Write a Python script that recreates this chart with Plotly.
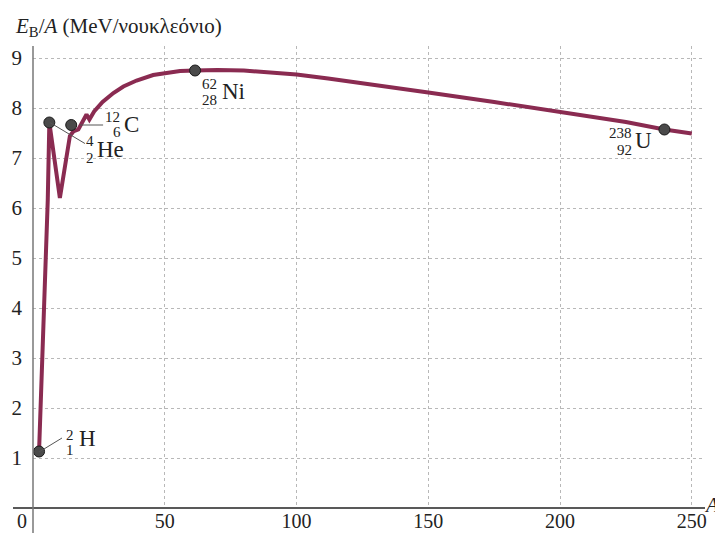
import plotly.graph_objects as go

# ---- data ----
curve_A = [2.3, 3.9, 5.6, 6.2, 10.2, 14.0, 15.3, 17.2, 18.5, 20.3, 21.4, 23.2, 26.4, 30.5,
           34.3, 39.3, 45.6, 50.7, 55.8, 61.5, 70.0, 80.0, 90.0, 100.0, 112.0, 125.0,
           137.0, 150.0, 175.0, 200.0, 225.0, 239.6, 250.0]
curve_E = [1.13, 3.49, 6.16, 7.71, 6.20, 7.44, 7.53, 7.57, 7.69, 7.87, 7.77, 7.93, 8.12, 8.30,
           8.43, 8.55, 8.66, 8.71, 8.74, 8.75, 8.76, 8.75, 8.72, 8.67, 8.59, 8.50,
           8.41, 8.31, 8.12, 7.93, 7.72, 7.57, 7.49]

nuclide_names = ["H", "He", "C", "Ni", "U"]
nuclide_mass = ["2", "4", "12", "62", "238"]
nuclide_Z = ["1", "2", "6", "28", "92"]
nuclide_A = [2.3, 6.2, 14.5, 61.5, 239.6]
nuclide_E = [1.13, 7.71, 7.66, 8.75, 7.57]

x_ticks = [50, 100, 150, 200, 250]
y_ticks = [1, 2, 3, 4, 5, 6, 7, 8, 9]

# ---- styling / layout ----
SERIF = '"Liberation Serif", "Times New Roman", "DejaVu Serif", serif'
CURVE_COLOR = "#8a2b51"
GRID = "#b8b8b8"
TXT = "#222222"

fig = go.Figure()
fig.add_trace(go.Scatter(x=curve_A, y=curve_E, mode="lines",
                         line=dict(color=CURVE_COLOR, width=4), hoverinfo="skip"))
fig.add_trace(go.Scatter(x=nuclide_A, y=nuclide_E, mode="markers",
                         marker=dict(size=11, color="#4a4a4a",
                                     line=dict(color="#1a1a1a", width=1)),
                         hoverinfo="skip"))

# label placement (data coordinates): mass number, atomic number, symbol, leader line
label_pos = {
    "H":  dict(m=(14.0, 1.47), z=(14.0, 1.16), s=(20.8, 1.40), lead=((2.3, 1.12), (11.0, 1.40))),
    "He": dict(m=(21.6, 7.35), z=(21.6, 7.01), s=(29.4, 7.17), lead=((6.4, 7.71), (19.7, 7.29))),
    "C":  dict(m=(30.3, 7.83), z=(31.9, 7.52), s=(37.3, 7.68), lead=((17.8, 7.66), (26.6, 7.66))),
    "Ni": dict(m=(67.1, 8.48), z=(67.1, 8.16), s=(76.2, 8.34), lead=None),
    "U":  dict(m=(222.9, 7.50), z=(224.6, 7.16), s=(231.8, 7.35), lead=None),
}

annotations = []
shapes = []
for name, mass, z in zip(nuclide_names, nuclide_mass, nuclide_Z):
    p = label_pos[name]
    annotations.append(dict(x=p["m"][0], y=p["m"][1], text=mass, showarrow=False,
                            font=dict(family=SERIF, size=15, color=TXT)))
    annotations.append(dict(x=p["z"][0], y=p["z"][1], text=z, showarrow=False,
                            font=dict(family=SERIF, size=15, color=TXT)))
    annotations.append(dict(x=p["s"][0], y=p["s"][1], text=name, showarrow=False,
                            font=dict(family=SERIF, size=23, color=TXT)))
    if p["lead"]:
        (x0, y0), (x1, y1) = p["lead"]
        shapes.append(dict(type="line", xref="x", yref="y", x0=x0, y0=y0, x1=x1, y1=y1,
                           line=dict(color="#555", width=1)))

# axis lines (extend beyond plot area like the original)
shapes.append(dict(type="line", xref="paper", yref="paper", x0=-20 / 672, x1=1.0, y0=0, y1=0,
                   line=dict(color="#222", width=1.5)))
shapes.append(dict(type="line", xref="paper", yref="paper", x0=0, x1=0, y0=-25 / 462, y1=1.0,
                   line=dict(color="#777", width=1.5)))

# title, corner zero, axis letter
annotations.append(dict(xref="paper", yref="paper", x=-20 / 672, y=(508 - 27) / 462,
                        xanchor="left", yanchor="middle", showarrow=False,
                        text="<i>E</i><sub>B</sub>/<i>A</i> (MeV/νουκλεόνιο)",
                        font=dict(family=SERIF, size=21, color=TXT)))
annotations.append(dict(xref="paper", yref="paper", x=-11 / 672, y=-13 / 462,
                        xanchor="center", yanchor="middle", showarrow=False, text="0",
                        font=dict(family=SERIF, size=20, color=TXT)))
annotations.append(dict(xref="paper", yref="paper", x=(711 - 33) / 672, y=(508 - 505) / 462,
                        xanchor="center", yanchor="middle", showarrow=False, text="<i>A</i>",
                        font=dict(family=SERIF, size=21, color=TXT)))

# the page body adds an 8px offset, so the figure is 8px smaller on each axis
fig.update_layout(
    width=715, height=525,
    margin=dict(l=25, r=18, t=38, b=25, autoexpand=False),
    paper_bgcolor="white", plot_bgcolor="white",
    showlegend=False,
    font=dict(family=SERIF, size=21, color=TXT),
    xaxis=dict(range=[0, 255], tickvals=x_ticks, ticktext=[str(v) for v in x_ticks],
               showgrid=True, gridcolor=GRID, griddash="dot", gridwidth=1, automargin=False,
               zeroline=False, showline=False, ticks="", ticklabelstandoff=-1,
               tickfont=dict(family=SERIF, size=20, color=TXT)),
    yaxis=dict(range=[0, 9.24], tickvals=y_ticks, ticktext=[str(v) for v in y_ticks],
               showgrid=True, gridcolor=GRID, griddash="dot", gridwidth=1, automargin=False,
               zeroline=False, showline=False, ticks="", ticklabelstandoff=10,
               tickfont=dict(family=SERIF, size=21, color=TXT)),
    annotations=annotations, shapes=shapes,
)

fig.write_html("out.html")
